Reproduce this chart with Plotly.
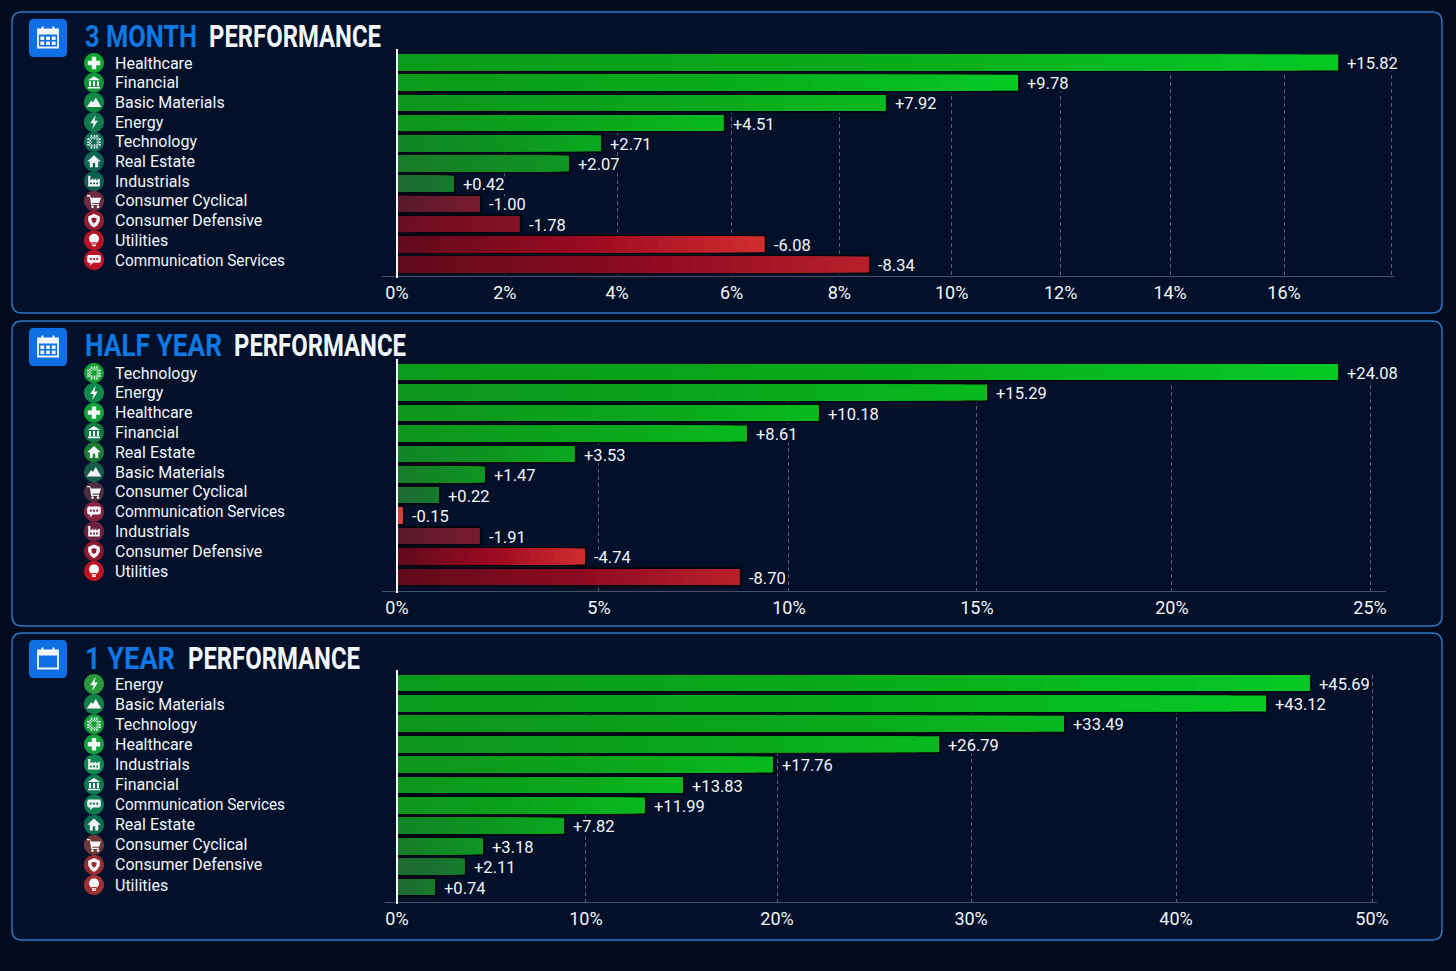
import json
import numpy as np
import plotly.graph_objects as go

# ---------- data ----------
sectors_3m = ["Healthcare", "Financial", "Basic Materials", "Energy", "Technology", "Real Estate",
              "Industrials", "Consumer Cyclical", "Consumer Defensive", "Utilities", "Communication Services"]
labels_3m = ["+15.82", "+9.78", "+7.92", "+4.51", "+2.71", "+2.07", "+0.42", "-1.00", "-1.78", "-6.08", "-8.34"]
bars_3m = [17.02, 11.23, 8.84, 5.91, 3.69, 3.11, 1.03, 1.50, 2.22, 6.65, 8.54]
ticks_3m = [0, 1.95, 3.98, 6.05, 8.0, 10.03, 12.0, 13.98, 16.04, 17.98]
ticktext_3m = ["0%", "2%", "4%", "6%", "8%", "10%", "12%", "14%", "16%", ""]

sectors_6m = ["Technology", "Energy", "Healthcare", "Financial", "Real Estate", "Basic Materials",
              "Consumer Cyclical", "Communication Services", "Industrials", "Consumer Defensive", "Utilities"]
labels_6m = ["+24.08", "+15.29", "+10.18", "+8.61", "+3.53", "+1.47", "+0.22", "-0.15", "-1.91", "-4.74", "-8.70"]
bars_6m = [24.18, 15.16, 10.84, 8.99, 4.57, 2.26, 1.08, 0.15, 2.13, 4.83, 8.81]
ticks_6m = [0, 5.19, 10.07, 14.90, 19.91, 25.0]
ticktext_6m = ["0%", "5%", "10%", "15%", "20%", "25%"]

sectors_1y = ["Energy", "Basic Materials", "Technology", "Healthcare", "Industrials", "Financial",
              "Communication Services", "Real Estate", "Consumer Cyclical", "Consumer Defensive", "Utilities"]
labels_1y = ["+45.69", "+43.12", "+33.49", "+26.79", "+17.76", "+13.83", "+11.99", "+7.82", "+3.18", "+2.11", "+0.74"]
bars_1y = [46.77, 44.52, 34.17, 27.77, 19.26, 14.65, 12.70, 8.56, 4.41, 3.48, 1.95]
ticks_1y = [0, 9.68, 19.47, 29.41, 39.91, 49.95]
ticktext_1y = ["0%", "10%", "20%", "30%", "40%", "50%"]

# ---------- styling ----------
W, H = 1456, 971
PAGE = "#020a1d"
PANEL = "#02102a"
BORDER = "#2a78c6"
BLUE = "#0f78e2"
WHITE = "#f3f6f9"
FONT = "Roboto"
TEXT_WIDTHS = {"3 MONTH": 112, "HALF YEAR": 137, "1 YEAR": 90, "PERFORMANCE": 172, "Communication Services": 170}

TONES = {
    "G0": ("#0b9a1a", "#08ab1a", "#05c825"),
    "G1": ("#0d951c", "#0aa41b", "#07b91e"),
    "G2": ("#12842a", "#0d951f", "#0aa81f"),
    "G3": ("#197a2a", "#128a25", "#0f9623"),
    "G4": ("#1f6a32", "#1a7030", "#157c2b"),
    "R0": ("#5e0a1c", "#9c0a20", "#cf2c2e"),
    "R1": ("#5e0a1c", "#8e0a20", "#b7202a"),
    "R2": ("#6a0d22", "#7c0d24", "#86102a"),
    "R3": ("#561a2c", "#6a1a2e", "#7a1a30"),
    "R4": ("#d8413f", "#d8413f", "#d8413f"),
}

PANELS = [
    dict(box=(12, 12, 1442, 313), head=(29, 19), head_fill=True,
         titles=[("3 MONTH", 83, BLUE), ("PERFORMANCE", 207, WHITE)], title_y=37,
         sectors=sectors_3m, labels=labels_3m, bars=bars_3m, ticks=ticks_3m, ticktext=ticktext_3m,
         scale=55.3, axis=(382, 1395), plot=(54, 276), zero_top=49, bar0=62.5, pitch=20.2, lab0=63, labpitch=19.7,
         tones=["G0", "G0", "G1", "G1", "G2", "G3", "G4", "R3", "R2", "R0", "R1"],
         icons=["#10a52f", "#12953a", "#128845", "#107a4c", "#0f6e52", "#0e6650", "#105e50",
                "#6e2c40", "#961c30", "#b81424", "#c0142a"]),
    dict(box=(12, 321, 1442, 626), head=(29, 328), head_fill=True,
         titles=[("HALF YEAR", 83, BLUE), ("PERFORMANCE", 232, WHITE)], title_y=346,
         sectors=sectors_6m, labels=labels_6m, bars=bars_6m, ticks=ticks_6m, ticktext=ticktext_6m,
         scale=38.92, axis=(382, 1386), plot=(364, 591), zero_top=359, bar0=372, pitch=20.5, lab0=373, labpitch=19.8,
         tones=["G0", "G1", "G1", "G1", "G2", "G3", "G4", "R4", "R3", "R0", "R1"],
         icons=["#12a030", "#10884a", "#12a038", "#0f7a42", "#1a7a32", "#1a5c4a",
                "#4f2c40", "#8a2440", "#6c2440", "#8e1a2e", "#bd1422"]),
    dict(box=(12, 633, 1442, 940), head=(29, 640), head_fill=False,
         titles=[("1 YEAR", 83, BLUE), ("PERFORMANCE", 186, WHITE)], title_y=658,
         sectors=sectors_1y, labels=labels_1y, bars=bars_1y, ticks=ticks_1y, ticktext=ticktext_1y,
         scale=19.52, axis=(385, 1377), plot=(675, 902), zero_top=670, bar0=683, pitch=20.4, lab0=684, labpitch=20.1,
         tones=["G0", "G0", "G1", "G1", "G1", "G1", "G1", "G2", "G3", "G4", "G4"],
         icons=["#2a9a38", "#14804a", "#12a034", "#14a03a", "#108a50", "#0f7a4f", "#0f7a4f",
                "#0f6e50", "#6e3838", "#943030", "#9e3232"]),
]


def px(x):
    return x / W


def py(y):
    return 1 - y / H


def poly(points, cx, cy, r):
    out = []
    for i, (u, v) in enumerate(points):
        out.append(("M" if i == 0 else "L") + f"{px(cx + u * r):.5f},{py(cy + v * r):.5f}")
    return " ".join(out) + " Z"


def circ(u, v, rad, n=22):
    a = np.linspace(0, 2 * np.pi, n, endpoint=False)
    return list(zip(u + rad * np.cos(a), v + rad * np.sin(a)))


def rect(a, b, c, d):
    return [(a, b), (c, b), (c, d), (a, d)]


# glyphs: (white polygons, polygons knocked out in the icon colour), unit circle coordinates
GLYPHS = {
    "Healthcare": ([[(-.22, -.62), (.22, -.62), (.22, -.22), (.62, -.22), (.62, .22), (.22, .22), (.22, .62),
                     (-.22, .62), (-.22, .22), (-.62, .22), (-.62, -.22), (-.22, -.22)]], []),
    "Financial": ([[(-.62, -.25), (0, -.65), (.62, -.25)], rect(-.6, .42, .6, .58), rect(-.5, -.15, -.3, .35),
                   rect(-.1, -.15, .1, .35), rect(.3, -.15, .5, .35)], []),
    "Basic Materials": ([[(-.72, .45), (-.28, -.2), (-.12, 0), (.18, -.5), (.72, .45)]], []),
    "Energy": ([[(.18, -.72), (-.38, .12), (-.04, .12), (-.18, .72), (.38, -.14), (.04, -.14)]], []),
    "Technology": ([rect(-.45, -.45, .45, .45)] +
                   [rect(t - .07, -.68, t + .07, .68) for t in (-.25, .05, .3)] +
                   [rect(-.68, t - .07, .68, t + .07) for t in (-.25, .05, .3)],
                   [rect(-.25, -.25, .25, .25)]),
    "Real Estate": ([[(0, -.62), (.68, 0), (.42, 0), (.42, .58), (.12, .58), (.12, .15), (-.12, .15),
                      (-.12, .58), (-.42, .58), (-.42, 0), (-.68, 0)]], []),
    "Industrials": ([[(-.58, .52), (-.58, -.55), (-.36, -.55), (-.36, -.08), (-.06, -.3), (-.06, -.08),
                      (.22, -.3), (.22, -.08), (.58, -.3), (.58, .52)]],
                    [rect(-.4, .12, -.22, .3), rect(-.09, .12, .09, .3), rect(.22, .12, .4, .3)]),
    "Consumer Cyclical": ([[(-.7, -.58), (-.4, -.58), (-.3, -.32), (.7, -.32), (.52, .2), (-.18, .2),
                            (-.16, .3), (.5, .3), (.5, .42), (-.28, .42), (-.42, -.45), (-.7, -.45)],
                           circ(-.15, .58, .13), circ(.4, .58, .13)], []),
    "Consumer Defensive": ([[(0, -.68), (.58, -.42), (.58, .05), (.32, .48), (0, .7), (-.32, .48),
                             (-.58, .05), (-.58, -.42)]],
                           [[(-.28, -.2), (0, -.32), (.28, -.2), (.2, .1), (0, .3), (-.2, .1)]]),
    "Utilities": ([circ(0, -.16, .5), [(-.26, .2), (.26, .2), (.2, .42), (-.2, .42)],
                   rect(-.18, .46, .18, .6)], []),
    "Communication Services": ([[(-.55, -.5), (.55, -.5), (.68, -.36), (.68, .14), (.55, .28), (-.1, .28),
                                 (-.42, .58), (-.36, .28), (-.55, .28), (-.68, .14), (-.68, -.36)]],
                               [circ(-.32, -.1, .11), circ(0, -.1, .11), circ(.32, -.1, .11)]),
}

shapes, annotations, traces = [], [], []
layout_axes = {}
STEPS = 24


def lerp(a, b, t):
    ca = [int(a[i:i + 2], 16) for i in (1, 3, 5)]
    cb = [int(b[i:i + 2], 16) for i in (1, 3, 5)]
    return "rgb(" + ",".join(str(round(p + (q - p) * t)) for p, q in zip(ca, cb)) + ")"


def tone_at(tone, t):
    s, m, e = TONES[tone]
    return lerp(s, m, t / .55) if t < .55 else lerp(m, e, (t - .55) / .45)


for idx, p in enumerate(PANELS):
    suffix = "" if idx == 0 else str(idx + 1)
    xa, ya = "x" + suffix, "y" + suffix
    # panel frame
    x0, y0, x1, y1 = p["box"]
    r = 10
    d = (f"M{px(x0 + r)},{py(y0)} L{px(x1 - r)},{py(y0)} Q{px(x1)},{py(y0)} {px(x1)},{py(y0 + r)} "
         f"L{px(x1)},{py(y1 - r)} Q{px(x1)},{py(y1)} {px(x1 - r)},{py(y1)} L{px(x0 + r)},{py(y1)} "
         f"Q{px(x0)},{py(y1)} {px(x0)},{py(y1 - r)} L{px(x0)},{py(y0 + r)} Q{px(x0)},{py(y0)} {px(x0 + r)},{py(y0)} Z")
    shapes.append(dict(type="path", path=d, xref="paper", yref="paper", layer="below",
                       fillcolor=PANEL, line=dict(color=BORDER, width=1.4)))

    # calendar badge
    hx, hy = p["head"]
    s = 38
    c = 5
    d = (f"M{px(hx + c)},{py(hy)} L{px(hx + s - c)},{py(hy)} Q{px(hx + s)},{py(hy)} {px(hx + s)},{py(hy + c)} "
         f"L{px(hx + s)},{py(hy + s - c)} Q{px(hx + s)},{py(hy + s)} {px(hx + s - c)},{py(hy + s)} "
         f"L{px(hx + c)},{py(hy + s)} Q{px(hx)},{py(hy + s)} {px(hx)},{py(hy + s - c)} "
         f"L{px(hx)},{py(hy + c)} Q{px(hx)},{py(hy)} {px(hx + c)},{py(hy)} Z")
    shapes.append(dict(type="path", path=d, xref="paper", yref="paper", fillcolor="#0f70e6", line_width=0))
    cx, cy = hx + 19, hy + 18
    shapes.append(dict(type="path", path=poly(rect(-10, -7.5, 10, 10.5), cx, cy, 1), xref="paper", yref="paper",
                       fillcolor="rgba(0,0,0,0)", line=dict(color=WHITE, width=1.8)))
    shapes.append(dict(type="path", path=poly(rect(-10, -7.5, 10, -2.5), cx, cy, 1), xref="paper", yref="paper",
                       fillcolor=WHITE, line_width=0))
    for u in (-5.5, 5.5):
        shapes.append(dict(type="path", path=poly(rect(u - 1, -10.5, u + 1, -5.5), cx, cy, 1), xref="paper",
                           yref="paper", fillcolor=WHITE, line_width=0))
    if p["head_fill"]:
        cells = " ".join(poly(rect(u, v, u + 3.8, v + 3.4), cx, cy, 1)
                         for u in (-7.6, -1.9, 3.8) for v in (-.5, 4.6))
        shapes.append(dict(type="path", path=cells, xref="paper", yref="paper", fillcolor=WHITE, line_width=0))

    # titles
    for text, tx, col in p["titles"]:
        annotations.append(dict(text=text, xref="paper", yref="paper", x=px(tx), y=py(p["title_y"]),
                                xanchor="left", yanchor="middle", showarrow=False, align="left",
                                font=dict(family=FONT, size=31, weight=700, color=col)))

    # sector names and icons
    for i, name in enumerate(p["sectors"]):
        ly = p["lab0"] + i * p["labpitch"]
        annotations.append(dict(text=name, xref="paper", yref="paper", x=px(113), y=py(ly), xanchor="left",
                                yanchor="middle", showarrow=False, align="left",
                                font=dict(family=FONT, size=16, color=WHITE)))
        col = p["icons"][i]
        shapes.append(dict(type="path", path=poly(circ(0, 0, 1, 40), 94, ly, 10), xref="paper", yref="paper",
                           fillcolor=col, line_width=0))
        whites, holes = GLYPHS[name]
        shapes.append(dict(type="path", path=" ".join(poly(g, 94, ly, 10) for g in whites), xref="paper",
                           yref="paper", fillcolor=WHITE, line_width=0))
        if holes:
            shapes.append(dict(type="path", path=" ".join(poly(g, 94, ly, 10) for g in holes), xref="paper",
                               yref="paper", fillcolor=col, line_width=0))

    # bars: dark halo, then the gradient painted from the tip inwards
    rows = list(range(len(p["bars"])))
    traces.append(go.Bar(x=[b + 2 / p["scale"] for b in p["bars"]], y=rows, orientation="h", width=0.97,
                         marker=dict(color="#01060f", line_width=0), xaxis=xa, yaxis=ya, hoverinfo="skip"))
    for k in range(STEPS):
        t = 1 - k / STEPS
        traces.append(go.Bar(x=[b * t for b in p["bars"]], y=rows, orientation="h", width=16 / p["pitch"],
                             marker=dict(color=[tone_at(tn, t) for tn in p["tones"]], line_width=0),
                             xaxis=xa, yaxis=ya, hoverinfo="skip"))

    # value labels
    for i, (b, text) in enumerate(zip(p["bars"], p["labels"])):
        annotations.append(dict(text=text, xref=xa, yref=ya, x=b, y=i, xanchor="left", yanchor="middle",
                                xshift=8, yshift=-1, showarrow=False, bgcolor=PANEL, borderpad=0, height=15,
                                font=dict(family=FONT, size=16.5, color=WHITE)))

    # axes
    ax0, ax1 = p["axis"]
    top, bottom = p["plot"]
    layout_axes["xaxis" + suffix] = dict(
        domain=[px(ax0), px(ax1)], range=[(ax0 - 397) / p["scale"], (ax1 - 397) / p["scale"]],
        anchor=ya, automargin=False, tickmode="array", tickvals=p["ticks"], ticktext=p["ticktext"],
        ticks="", tickfont=dict(family=FONT, size=18, color=WHITE),
        showgrid=True, griddash="4px,3px", gridcolor="rgba(170,180,200,0.5)", gridwidth=1, zeroline=False,
        showline=True, linecolor="rgba(165,175,195,0.42)", linewidth=1, fixedrange=True)
    layout_axes["yaxis" + suffix] = dict(
        domain=[py(bottom), py(top)], anchor=xa, automargin=False, showgrid=False, zeroline=False,
        showticklabels=False,
        range=[(len(rows) - 1) + (bottom - (p["bar0"] + (len(rows) - 1) * p["pitch"])) / p["pitch"],
               (top - p["bar0"]) / p["pitch"]], fixedrange=True)

    # white zero line above the bars
    shapes.append(dict(type="line", xref=xa, yref="paper", x0=0, x1=0, y0=py(bottom + 2), y1=py(p["zero_top"]),
                       line=dict(color=WHITE, width=2), layer="above"))

fig = go.Figure(traces)
fig.update_layout(width=W, height=H, margin=dict(l=0, r=0, t=0, b=0, autoexpand=False), paper_bgcolor=PAGE,
                  plot_bgcolor="rgba(0,0,0,0)", barmode="overlay", barcornerradius=2, showlegend=False,
                  hovermode=False, shapes=shapes, annotations=annotations, **layout_axes)

post = """
document.documentElement.style.overflow='hidden';
document.body.style.margin='0';
document.body.style.background='%s';
var gd=document.getElementById('{plot_id}');
var widths=%s;
function squeeze(){
  gd.querySelectorAll('.annotation-text').forEach(function(t){
    var w=widths[t.textContent];
    if(w){t.setAttribute('textLength',w);t.setAttribute('lengthAdjust','spacingAndGlyphs');}
  });
}
squeeze();
gd.on('plotly_afterplot',squeeze);
""" % (PAGE, json.dumps(TEXT_WIDTHS))
fig.write_html("out.html", config=dict(displayModeBar=False), post_script=post)
